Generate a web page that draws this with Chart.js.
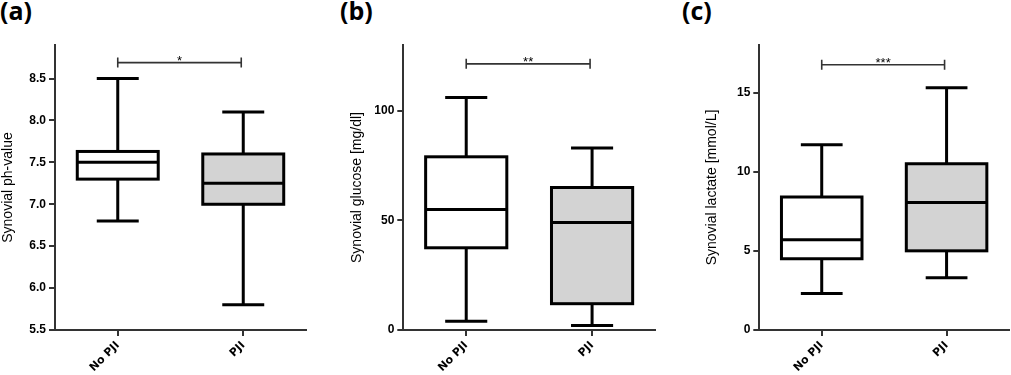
<!DOCTYPE html>
<html><head><meta charset="utf-8">
<script src="https://cdn.jsdelivr.net/npm/chart.js@4.4.0/dist/chart.umd.min.js"></script>
<style>
html,body{margin:0;padding:0;background:#fff;width:1011px;height:375px;overflow:hidden;position:relative}
.lbl{position:absolute;top:-5px;font-family:'Open Sans';font-weight:700;font-size:25px;line-height:1.2;color:#000}
canvas{position:absolute;top:0}
</style></head><body>
<div class="lbl" style="left:0">(a)</div>
<div class="lbl" style="left:340px">(b)</div>
<div class="lbl" style="left:682px">(c)</div>
<canvas id="ca" width="308" height="375" style="left:0"></canvas>
<canvas id="cb" width="308" height="375" style="left:349px"></canvas>
<canvas id="cc" width="307" height="375" style="left:704px"></canvas>
<script>
// ---- data ----
const categories = ['No PJI', 'PJI'];

const phMin = [6.8, 5.8];
const phQ1  = [7.3, 7.0];
const phMed = [7.5, 7.25];
const phQ3  = [7.63, 7.6];
const phMax = [8.5, 8.1];
const phTicks = [5.5, 6.0, 6.5, 7.0, 7.5, 8.0, 8.5];

const gluMin = [4, 2];
const gluQ1  = [37.5, 12];
const gluMed = [55, 49];
const gluQ3  = [79, 65];
const gluMax = [106, 83];
const gluTicks = [0, 50, 100];

const lacMin = [2.3, 3.3];
const lacQ1  = [4.5, 5.0];
const lacMed = [5.7, 8.05];
const lacQ3  = [8.4, 10.5];
const lacMax = [11.7, 15.3];
const lacTicks = [0, 5, 10, 15];

const sigLabels = ['*', '**', '***'];
const sigLevels = [8.69, 121.4, 16.75];
const yTitles = ['Synovial ph-value', 'Synovial glucose [mg/dl]', 'Synovial lactate [mmol/L]'];

// ---- drawing ----
const boxExtras = {
  id: 'boxExtras',
  beforeDatasetsDraw(chart, args, o) {
    const ctx = chart.ctx, y = chart.scales.y, meta = chart.getDatasetMeta(0);
    ctx.save();
    ctx.strokeStyle = '#000'; ctx.lineWidth = 3; ctx.lineCap = 'butt';
    meta.data.forEach((el, i) => {
      const x = el.x, hw = (el.width + 3) / 4;
      const pMax = y.getPixelForValue(o.max[i]), pMin = y.getPixelForValue(o.min[i]);
      const pQ3 = y.getPixelForValue(o.q3[i]), pQ1 = y.getPixelForValue(o.q1[i]);
      ctx.beginPath();
      ctx.moveTo(x, pMax); ctx.lineTo(x, pQ3);
      ctx.moveTo(x, pQ1); ctx.lineTo(x, pMin);
      ctx.moveTo(x - hw, pMax); ctx.lineTo(x + hw, pMax);
      ctx.moveTo(x - hw, pMin); ctx.lineTo(x + hw, pMin);
      ctx.stroke();
    });
    ctx.restore();
  },
  afterDatasetsDraw(chart, args, o) {
    const ctx = chart.ctx, y = chart.scales.y, meta = chart.getDatasetMeta(0);
    ctx.save();
    ctx.strokeStyle = '#000'; ctx.lineWidth = 3; ctx.lineJoin = 'miter';
    meta.data.forEach((el, i) => {
      const l = el.x - el.width / 2, r = el.x + el.width / 2;
      const pQ3 = y.getPixelForValue(o.q3[i]), pQ1 = y.getPixelForValue(o.q1[i]);
      ctx.strokeRect(l, pQ3, r - l, pQ1 - pQ3);
      const p = y.getPixelForValue(o.med[i]);
      ctx.beginPath();
      ctx.moveTo(l, p); ctx.lineTo(r, p);
      ctx.stroke();
    });
    // significance bracket
    const x = chart.scales.x;
    const x1 = x.getPixelForValue(0), x2 = x.getPixelForValue(1) - 2;
    const py = y.getPixelForValue(o.sig);
    ctx.strokeStyle = '#333'; ctx.lineWidth = 1.6;
    ctx.beginPath();
    ctx.moveTo(x1, py); ctx.lineTo(x2, py);
    ctx.moveTo(x1, py - 5); ctx.lineTo(x1, py + 5);
    ctx.moveTo(x2, py - 5); ctx.lineTo(x2, py + 5);
    ctx.stroke();
    ctx.fillStyle = '#000';
    ctx.font = '13px "Liberation Sans"';
    ctx.textAlign = 'center'; ctx.textBaseline = 'alphabetic';
    ctx.fillText(o.label, (x1 + x2) / 2, py + 2);
    ctx.restore();
  }
};

function makePanel(id, q1, med, q3, mn, mx, ticksArr, yMin, yMax, title, yWidth, sigLabel, sigLevel, fmt) {
  const axisColor = '#333';
  new Chart(document.getElementById(id), {
    type: 'bar',
    data: {
      labels: categories,
      datasets: [{
        data: q1.map((v, i) => [v, q3[i]]),
        backgroundColor: ['#ffffff', '#d3d3d3'],
        borderWidth: 0,
        barPercentage: 0.645,
        categoryPercentage: 1
      }]
    },
    options: {
      responsive: false,
      animation: false,
      devicePixelRatio: 1,
      layout: { padding: { left: 0, right: 2, top: 45, bottom: 0 } },
      plugins: {
        legend: { display: false },
        tooltip: { enabled: false },
        boxExtras: { q1: q1, med: med, q3: q3, min: mn, max: mx, sig: sigLevel, label: sigLabel }
      },
      scales: {
        x: {
          offset: true,
          grid: { display: true, offset: false, drawOnChartArea: false, drawTicks: true, tickLength: 6, color: axisColor, lineWidth: 2 },
          border: { display: true, color: axisColor, width: 2 },
          ticks: { minRotation: 45, maxRotation: 45, color: '#000', padding: 3,
                   font: { family: 'DejaVu Sans', weight: 'bold', size: 11 } },
          afterFit: s => { s.height = 45; }
        },
        y: {
          min: yMin, max: yMax,
          afterBuildTicks: s => { s.ticks = ticksArr.map(v => ({ value: v })); },
          grid: { display: true, drawOnChartArea: false, drawTicks: true, tickLength: 6, color: axisColor, lineWidth: 2 },
          border: { display: true, color: axisColor, width: 2 },
          ticks: { color: '#000', padding: 3, callback: v => fmt(v),
                   font: { family: 'Liberation Sans', weight: 'bold', size: 12 } },
          title: { display: true, text: title, color: '#000', padding: { top: 0, bottom: 0 },
                   font: { family: 'Liberation Sans', size: 14 } },
          afterFit: s => { s.width = yWidth; }
        }
      }
    },
    plugins: [boxExtras]
  });
}

makePanel('ca', phQ1, phMed, phQ3, phMin, phMax, phTicks, 5.5, 8.9, yTitles[0], 55, sigLabels[0], sigLevels[0], v => v.toFixed(1));
makePanel('cb', gluQ1, gluMed, gluQ3, gluMin, gluMax, gluTicks, 0, 130, yTitles[1], 54.3, sigLabels[1], sigLevels[1], v => String(v));
makePanel('cc', lacQ1, lacMed, lacQ3, lacMin, lacMax, lacTicks, 0, 18, yTitles[2], 55.3, sigLabels[2], sigLevels[2], v => String(v));
</script>
</body></html>
